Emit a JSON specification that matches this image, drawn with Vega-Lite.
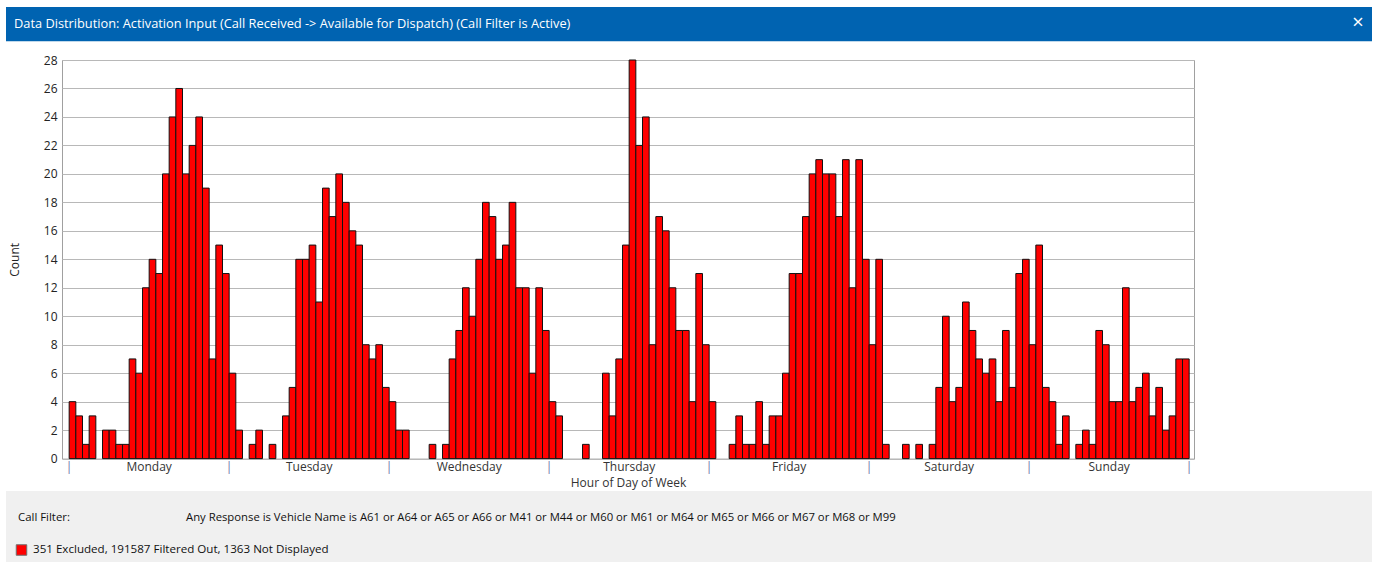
{
  "$schema": "https://vega.github.io/schema/vega-lite/v6.json",
  "background": "white",
  "padding": {"left": 6, "top": 7, "right": 6, "bottom": 0},
  "config": {
    "view": {"stroke": null},
    "font": "Open Sans",
    "text": {"font": "Open Sans"}
  },
  "datasets": {
    "counts": [
      {"day": "Monday", "hour": 0, "count": 4}, {"day": "Monday", "hour": 1, "count": 3}, {"day": "Monday", "hour": 2, "count": 1}, {"day": "Monday", "hour": 3, "count": 3},
      {"day": "Monday", "hour": 4, "count": 0}, {"day": "Monday", "hour": 5, "count": 2}, {"day": "Monday", "hour": 6, "count": 2}, {"day": "Monday", "hour": 7, "count": 1},
      {"day": "Monday", "hour": 8, "count": 1}, {"day": "Monday", "hour": 9, "count": 7}, {"day": "Monday", "hour": 10, "count": 6}, {"day": "Monday", "hour": 11, "count": 12},
      {"day": "Monday", "hour": 12, "count": 14}, {"day": "Monday", "hour": 13, "count": 13}, {"day": "Monday", "hour": 14, "count": 20}, {"day": "Monday", "hour": 15, "count": 24},
      {"day": "Monday", "hour": 16, "count": 26}, {"day": "Monday", "hour": 17, "count": 20}, {"day": "Monday", "hour": 18, "count": 22}, {"day": "Monday", "hour": 19, "count": 24},
      {"day": "Monday", "hour": 20, "count": 19}, {"day": "Monday", "hour": 21, "count": 7}, {"day": "Monday", "hour": 22, "count": 15}, {"day": "Monday", "hour": 23, "count": 13},
      {"day": "Tuesday", "hour": 24, "count": 6}, {"day": "Tuesday", "hour": 25, "count": 2}, {"day": "Tuesday", "hour": 26, "count": 0}, {"day": "Tuesday", "hour": 27, "count": 1},
      {"day": "Tuesday", "hour": 28, "count": 2}, {"day": "Tuesday", "hour": 29, "count": 0}, {"day": "Tuesday", "hour": 30, "count": 1}, {"day": "Tuesday", "hour": 31, "count": 0},
      {"day": "Tuesday", "hour": 32, "count": 3}, {"day": "Tuesday", "hour": 33, "count": 5}, {"day": "Tuesday", "hour": 34, "count": 14}, {"day": "Tuesday", "hour": 35, "count": 14},
      {"day": "Tuesday", "hour": 36, "count": 15}, {"day": "Tuesday", "hour": 37, "count": 11}, {"day": "Tuesday", "hour": 38, "count": 19}, {"day": "Tuesday", "hour": 39, "count": 17},
      {"day": "Tuesday", "hour": 40, "count": 20}, {"day": "Tuesday", "hour": 41, "count": 18}, {"day": "Tuesday", "hour": 42, "count": 16}, {"day": "Tuesday", "hour": 43, "count": 15},
      {"day": "Tuesday", "hour": 44, "count": 8}, {"day": "Tuesday", "hour": 45, "count": 7}, {"day": "Tuesday", "hour": 46, "count": 8}, {"day": "Tuesday", "hour": 47, "count": 5},
      {"day": "Wednesday", "hour": 48, "count": 4}, {"day": "Wednesday", "hour": 49, "count": 2}, {"day": "Wednesday", "hour": 50, "count": 2}, {"day": "Wednesday", "hour": 51, "count": 0},
      {"day": "Wednesday", "hour": 52, "count": 0}, {"day": "Wednesday", "hour": 53, "count": 0}, {"day": "Wednesday", "hour": 54, "count": 1}, {"day": "Wednesday", "hour": 55, "count": 0},
      {"day": "Wednesday", "hour": 56, "count": 1}, {"day": "Wednesday", "hour": 57, "count": 7}, {"day": "Wednesday", "hour": 58, "count": 9}, {"day": "Wednesday", "hour": 59, "count": 12},
      {"day": "Wednesday", "hour": 60, "count": 10}, {"day": "Wednesday", "hour": 61, "count": 14}, {"day": "Wednesday", "hour": 62, "count": 18}, {"day": "Wednesday", "hour": 63, "count": 17},
      {"day": "Wednesday", "hour": 64, "count": 14}, {"day": "Wednesday", "hour": 65, "count": 15}, {"day": "Wednesday", "hour": 66, "count": 18}, {"day": "Wednesday", "hour": 67, "count": 12},
      {"day": "Wednesday", "hour": 68, "count": 12}, {"day": "Wednesday", "hour": 69, "count": 6}, {"day": "Wednesday", "hour": 70, "count": 12}, {"day": "Wednesday", "hour": 71, "count": 9},
      {"day": "Thursday", "hour": 72, "count": 4}, {"day": "Thursday", "hour": 73, "count": 3}, {"day": "Thursday", "hour": 74, "count": 0}, {"day": "Thursday", "hour": 75, "count": 0},
      {"day": "Thursday", "hour": 76, "count": 0}, {"day": "Thursday", "hour": 77, "count": 1}, {"day": "Thursday", "hour": 78, "count": 0}, {"day": "Thursday", "hour": 79, "count": 0},
      {"day": "Thursday", "hour": 80, "count": 6}, {"day": "Thursday", "hour": 81, "count": 3}, {"day": "Thursday", "hour": 82, "count": 7}, {"day": "Thursday", "hour": 83, "count": 15},
      {"day": "Thursday", "hour": 84, "count": 28}, {"day": "Thursday", "hour": 85, "count": 22}, {"day": "Thursday", "hour": 86, "count": 24}, {"day": "Thursday", "hour": 87, "count": 8},
      {"day": "Thursday", "hour": 88, "count": 17}, {"day": "Thursday", "hour": 89, "count": 16}, {"day": "Thursday", "hour": 90, "count": 12}, {"day": "Thursday", "hour": 91, "count": 9},
      {"day": "Thursday", "hour": 92, "count": 9}, {"day": "Thursday", "hour": 93, "count": 4}, {"day": "Thursday", "hour": 94, "count": 13}, {"day": "Thursday", "hour": 95, "count": 8},
      {"day": "Friday", "hour": 96, "count": 4}, {"day": "Friday", "hour": 97, "count": 0}, {"day": "Friday", "hour": 98, "count": 0}, {"day": "Friday", "hour": 99, "count": 1},
      {"day": "Friday", "hour": 100, "count": 3}, {"day": "Friday", "hour": 101, "count": 1}, {"day": "Friday", "hour": 102, "count": 1}, {"day": "Friday", "hour": 103, "count": 4},
      {"day": "Friday", "hour": 104, "count": 1}, {"day": "Friday", "hour": 105, "count": 3}, {"day": "Friday", "hour": 106, "count": 3}, {"day": "Friday", "hour": 107, "count": 6},
      {"day": "Friday", "hour": 108, "count": 13}, {"day": "Friday", "hour": 109, "count": 13}, {"day": "Friday", "hour": 110, "count": 17}, {"day": "Friday", "hour": 111, "count": 20},
      {"day": "Friday", "hour": 112, "count": 21}, {"day": "Friday", "hour": 113, "count": 20}, {"day": "Friday", "hour": 114, "count": 20}, {"day": "Friday", "hour": 115, "count": 17},
      {"day": "Friday", "hour": 116, "count": 21}, {"day": "Friday", "hour": 117, "count": 12}, {"day": "Friday", "hour": 118, "count": 21}, {"day": "Friday", "hour": 119, "count": 14},
      {"day": "Saturday", "hour": 120, "count": 8}, {"day": "Saturday", "hour": 121, "count": 14}, {"day": "Saturday", "hour": 122, "count": 1}, {"day": "Saturday", "hour": 123, "count": 0},
      {"day": "Saturday", "hour": 124, "count": 0}, {"day": "Saturday", "hour": 125, "count": 1}, {"day": "Saturday", "hour": 126, "count": 0}, {"day": "Saturday", "hour": 127, "count": 1},
      {"day": "Saturday", "hour": 128, "count": 0}, {"day": "Saturday", "hour": 129, "count": 1}, {"day": "Saturday", "hour": 130, "count": 5}, {"day": "Saturday", "hour": 131, "count": 10},
      {"day": "Saturday", "hour": 132, "count": 4}, {"day": "Saturday", "hour": 133, "count": 5}, {"day": "Saturday", "hour": 134, "count": 11}, {"day": "Saturday", "hour": 135, "count": 9},
      {"day": "Saturday", "hour": 136, "count": 7}, {"day": "Saturday", "hour": 137, "count": 6}, {"day": "Saturday", "hour": 138, "count": 7}, {"day": "Saturday", "hour": 139, "count": 4},
      {"day": "Saturday", "hour": 140, "count": 9}, {"day": "Saturday", "hour": 141, "count": 5}, {"day": "Saturday", "hour": 142, "count": 13}, {"day": "Saturday", "hour": 143, "count": 14},
      {"day": "Sunday", "hour": 144, "count": 8}, {"day": "Sunday", "hour": 145, "count": 15}, {"day": "Sunday", "hour": 146, "count": 5}, {"day": "Sunday", "hour": 147, "count": 4},
      {"day": "Sunday", "hour": 148, "count": 1}, {"day": "Sunday", "hour": 149, "count": 3}, {"day": "Sunday", "hour": 150, "count": 0}, {"day": "Sunday", "hour": 151, "count": 1},
      {"day": "Sunday", "hour": 152, "count": 2}, {"day": "Sunday", "hour": 153, "count": 1}, {"day": "Sunday", "hour": 154, "count": 9}, {"day": "Sunday", "hour": 155, "count": 8},
      {"day": "Sunday", "hour": 156, "count": 4}, {"day": "Sunday", "hour": 157, "count": 4}, {"day": "Sunday", "hour": 158, "count": 12}, {"day": "Sunday", "hour": 159, "count": 4},
      {"day": "Sunday", "hour": 160, "count": 5}, {"day": "Sunday", "hour": 161, "count": 6}, {"day": "Sunday", "hour": 162, "count": 3}, {"day": "Sunday", "hour": 163, "count": 5},
      {"day": "Sunday", "hour": 164, "count": 2}, {"day": "Sunday", "hour": 165, "count": 3}, {"day": "Sunday", "hour": 166, "count": 7}, {"day": "Sunday", "hour": 167, "count": 7}
    ]
  },
  "spacing": 0,
  "bounds": "full",
  "vconcat": [
    {
      "width": 1366,
      "height": 34.3,
      "view": {"fill": "#0063B1", "stroke": null},
      "layer": [
        {
          "data": {"values": [{"t": "Data Distribution: Activation Input (Call Received -> Available for Dispatch) (Call Filter is Active)"}]},
          "mark": {"type": "text", "align": "left", "baseline": "middle", "color": "white", "fontSize": 12.8, "dx": 8, "dy": 17},
          "encoding": {
            "text": {"field": "t"},
            "x": {"datum": 0, "type": "quantitative", "scale": {"domain": [0, 1]}, "axis": null},
            "y": {"datum": 1, "type": "quantitative", "scale": {"domain": [0, 1]}, "axis": null}
          }
        },
        {
          "data": {"values": [{"t": "×"}]},
          "mark": {"type": "text", "align": "center", "baseline": "middle", "color": "white", "fontSize": 20, "dx": -14, "dy": 16},
          "encoding": {
            "text": {"field": "t"},
            "x": {"datum": 1, "type": "quantitative", "scale": {"domain": [0, 1]}, "axis": null},
            "y": {"datum": 1, "type": "quantitative", "scale": {"domain": [0, 1]}, "axis": null}
          }
        }
      ]
    },
    {
      "spacing": 0,
      "bounds": "flush",
      "hconcat": [
        {
          "width": 56, "height": 448,
          "data": {"values": []},
          "mark": "point",
          "encoding": {}
        },
        {
          "spacing": 0,
          "bounds": "flush",
          "vconcat": [
            {
              "width": 1132, "height": 17.4,
              "data": {"values": []},
              "mark": "point",
              "encoding": {}
            },
            {
              "width": 1132,
              "height": 398.6,
              "data": {"name": "counts"},
              "transform": [{"filter": "datum.count > 0"}],
              "view": {"stroke": "#A0A0A0", "strokeWidth": 1, "fill": "white"},
              "mark": {"type": "bar", "fill": "#FF0000", "stroke": "#111111", "strokeWidth": 1, "binSpacing": 0},
              "encoding": {
                "x": {
                  "field": "hour",
                  "type": "quantitative",
                  "bin": {"step": 1, "extent": [0, 168]},
                  "scale": {"domain": [-1, 168.8], "nice": false, "zero": false},
                  "title": "Hour of Day of Week",
                  "axis": {
                    "values": [0, 12, 24, 36, 48, 60, 72, 84, 96, 108, 120, 132, 144, 156, 168],
                    "labelExpr": "datum.value % 24 == 0 ? '|' : ['Monday','Tuesday','Wednesday','Thursday','Friday','Saturday','Sunday'][floor(datum.value / 24)]",
                    "ticks": false,
                    "tickSize": 0,
                    "grid": false,
                    "domain": false,
                    "labelFlush": false,
                    "labelOverlap": false,
                    "labelBound": false,
                    "labelPadding": 3,
                    "labelFontSize": 12,
                    "labelColor": {"condition": {"test": "datum.value % 24 == 0", "value": "#6E6EA8"}, "value": "#333333"},
                    "titleFontSize": 12,
                    "titleFontWeight": "normal",
                    "titleColor": "#333333",
                    "titlePadding": 5
                  }
                },
                "y": {
                  "field": "count",
                  "type": "quantitative",
                  "scale": {"domain": [0, 28], "nice": false},
                  "title": "Count",
                  "axis": {
                    "values": [0, 2, 4, 6, 8, 10, 12, 14, 16, 18, 20, 22, 24, 26, 28],
                    "grid": true,
                    "gridColor": "#B8B8B8",
                    "gridWidth": 1,
                    "ticks": false,
                    "tickSize": 0,
                    "domain": false,
                    "labelPadding": 5,
                    "labelFontSize": 12,
                    "labelColor": "#222222",
                    "labelFlush": false,
                    "labelOverlap": false,
                    "titleFontSize": 12,
                    "titleFontWeight": "normal",
                    "titleColor": "#222222",
                    "titlePadding": 22
                  }
                }
              }
            },
            {
              "width": 1132, "height": 32,
              "data": {"values": []},
              "mark": "point",
              "encoding": {}
            }
          ]
        },
        {
          "width": 178, "height": 10,
          "data": {"values": []},
          "mark": "point",
          "encoding": {}
        }
      ]
    },
    {
      "width": 1366,
      "height": 72.7,
      "view": {"fill": "#F0F0F0", "stroke": null},
      "layer": [
        {
          "data": {"values": [{"t": "Call Filter:"}]},
          "mark": {"type": "text", "align": "left", "baseline": "middle", "color": "#111111", "fontSize": 11.4, "dx": 12, "dy": 27.3},
          "encoding": {
            "text": {"field": "t"},
            "x": {"datum": 0, "type": "quantitative", "scale": {"domain": [0, 1]}, "axis": null},
            "y": {"datum": 1, "type": "quantitative", "scale": {"domain": [0, 1]}, "axis": null}
          }
        },
        {
          "data": {"values": [{"t": "Any Response is Vehicle Name is A61 or A64 or A65 or A66 or M41 or M44 or M60 or M61 or M64 or M65 or M66 or M67 or M68 or M99"}]},
          "mark": {"type": "text", "align": "left", "baseline": "middle", "color": "#111111", "fontSize": 11.3, "dx": 180, "dy": 27.3},
          "encoding": {
            "text": {"field": "t"},
            "x": {"datum": 0, "type": "quantitative", "scale": {"domain": [0, 1]}, "axis": null},
            "y": {"datum": 1, "type": "quantitative", "scale": {"domain": [0, 1]}, "axis": null}
          }
        },
        {
          "data": {"values": [{"t": "351 Excluded, 191587 Filtered Out, 1363 Not Displayed"}]},
          "mark": {"type": "text", "align": "left", "baseline": "middle", "color": "#111111", "fontSize": 11.6, "dx": 27, "dy": 59},
          "encoding": {
            "text": {"field": "t"},
            "x": {"datum": 0, "type": "quantitative", "scale": {"domain": [0, 1]}, "axis": null},
            "y": {"datum": 1, "type": "quantitative", "scale": {"domain": [0, 1]}, "axis": null}
          }
        },
        {
          "data": {"values": [{"t": "swatch"}]},
          "mark": {"type": "square", "size": 110, "filled": true, "fill": "#FF0000", "stroke": "#707070", "strokeWidth": 1, "opacity": 1, "xOffset": 15.5, "yOffset": 59},
          "encoding": {
            "x": {"datum": 0, "type": "quantitative", "scale": {"domain": [0, 1]}, "axis": null},
            "y": {"datum": 1, "type": "quantitative", "scale": {"domain": [0, 1]}, "axis": null}
          }
        }
      ]
    }
  ]
}
